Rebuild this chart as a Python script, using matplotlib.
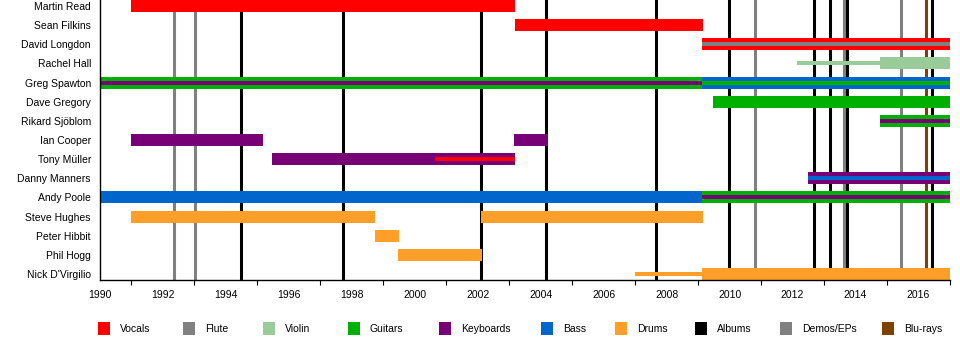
import matplotlib
matplotlib.use("Agg")
import matplotlib.pyplot as plt
from matplotlib.patches import Rectangle

plt.rcParams['font.family'] = ['Liberation Sans', 'DejaVu Sans']

# band members, top to bottom
members = ["Martin Read", "Sean Filkins", "David Longdon", "Rachel Hall", "Greg Spawton",
           "Dave Gregory", "Rikard Sjöblom", "Ian Cooper", "Tony Müller", "Danny Manners",
           "Andy Poole", "Steve Hughes", "Peter Hibbit", "Phil Hogg", "Nick D'Virgilio"]

# membership spans (parallel lists)
span_member = ["Martin Read", "Sean Filkins", "David Longdon", "Rachel Hall", "Rachel Hall",
               "Greg Spawton", "Greg Spawton", "Dave Gregory", "Rikard Sjöblom",
               "Ian Cooper", "Ian Cooper", "Tony Müller", "Tony Müller", "Danny Manners",
               "Andy Poole", "Andy Poole", "Steve Hughes", "Steve Hughes", "Peter Hibbit",
               "Phil Hogg", "Nick D'Virgilio", "Nick D'Virgilio"]
span_start = [1991.0, 2003.17, 2009.13, 2012.14, 2014.78,
              1990.0, 2009.13, 2009.47, 2014.78,
              1991.0, 2003.15, 1995.46, 2000.64, 2012.5,
              1990.0, 2009.13, 1991.0, 2002.1, 1998.72,
              1999.48, 2007.0, 2009.13]
span_end = [2003.18, 2009.15, 2017.0, 2014.78, 2017.0,
            2009.13, 2017.0, 2017.0, 2017.0,
            1995.18, 2004.23, 2003.18, 2003.18, 2017.0,
            2009.13, 2017.0, 1998.74, 2009.15, 1999.5,
            2002.13, 2009.13, 2017.0]
span_role = ["Vocals", "Vocals", "Vocals", "Violin", "Violin",
             "Guitars", "Bass", "Guitars", "Guitars",
             "Keyboards", "Keyboards", "Keyboards", "Vocals", "Keyboards",
             "Bass", "Guitars", "Drums", "Drums", "Drums",
             "Drums", "Drums", "Drums"]
span_stripe = [None, None, "Flute", None, None,
               "Keyboards", "Guitars", None, "Keyboards",
               None, None, None, None, "Bass",
               None, "Keyboards", None, None, None,
               None, None, None]
span_thin = [False, False, False, True, False,
             False, False, False, False,
             False, False, False, True, False,
             False, False, False, False, False,
             False, True, False]

# releases
albums = [1994.48, 1997.73, 2002.09, 2004.16, 2007.65, 2009.97, 2012.67, 2013.18, 2013.72, 2016.42]
demos = [1992.36, 1993.03, 2010.8, 2013.63, 2015.44]
blurays = [2016.23]

colors = {"Vocals": "#FF0000", "Flute": "#808080", "Violin": "#99CC99", "Guitars": "#00B000",
          "Keyboards": "#770077", "Bass": "#0066CC", "Drums": "#FF9F2A",
          "Albums": "#000000", "Demos/EPs": "#808080", "Blu-rays": "#804000"}
legend_labels = ["Vocals", "Flute", "Violin", "Guitars", "Keyboards", "Bass", "Drums",
                 "Albums", "Demos/EPs", "Blu-rays"]

fig = plt.figure(figsize=(9.6, 3.4), dpi=100)
ax = fig.add_axes([100 / 960, 1 - 280 / 340, 850 / 960, 280 / 340])

h = 0.63
row = {m: i for i, m in enumerate(members)}

for x in demos:
    ax.axvline(x, color=colors["Demos/EPs"], lw=2.2, zorder=1)
for x in albums:
    ax.axvline(x, color=colors["Albums"], lw=2.2, zorder=1)
for x in blurays:
    ax.axvline(x, color=colors["Blu-rays"], lw=2.2, zorder=1)

for m, s, e, r, st, thin in zip(span_member, span_start, span_end, span_role, span_stripe, span_thin):
    y = row[m]
    bh = h / 3 if thin else h
    ax.barh(y, e - s, left=s, height=bh, color=colors[r], linewidth=0, zorder=2)
    if st is not None:
        ax.barh(y, e - s, left=s, height=h / 3, color=colors[st], linewidth=0, zorder=3)

ax.set_xlim(1990, 2017)
ax.set_ylim(len(members) - 1 + h / 2, -h / 2)
ax.set_yticks(range(len(members)))
ax.set_yticklabels(members, fontsize=7.5)
ax.tick_params(axis='y', length=0, pad=6.5)
ax.set_xticks(range(1990, 2018, 2))
ax.set_xticks(range(1991, 2018, 2), minor=True)
ax.tick_params(axis='x', which='major', length=0, pad=7.5, labelsize=7.5)
ax.tick_params(axis='x', which='minor', length=3.6, width=0.8, direction='out')
for side in ['top', 'right']:
    ax.spines[side].set_visible(False)
for side in ['left', 'bottom']:
    ax.spines[side].set_linewidth(1.0)
    ax.spines[side].set_zorder(4)

# legend along the bottom
legend_x = [98, 183, 263, 348, 439, 541, 615, 695, 780, 882]
for lx, lab in zip(legend_x, legend_labels):
    fig.patches.append(Rectangle((lx / 960, 1 - 335 / 340), 12 / 960, 13 / 340,
                                 transform=fig.transFigure, color=colors[lab], linewidth=0))
    fig.text((lx + 22) / 960, 1 - 328.5 / 340, lab, fontsize=7.5, va='center', ha='left')

fig.savefig("out.png", dpi=100)
